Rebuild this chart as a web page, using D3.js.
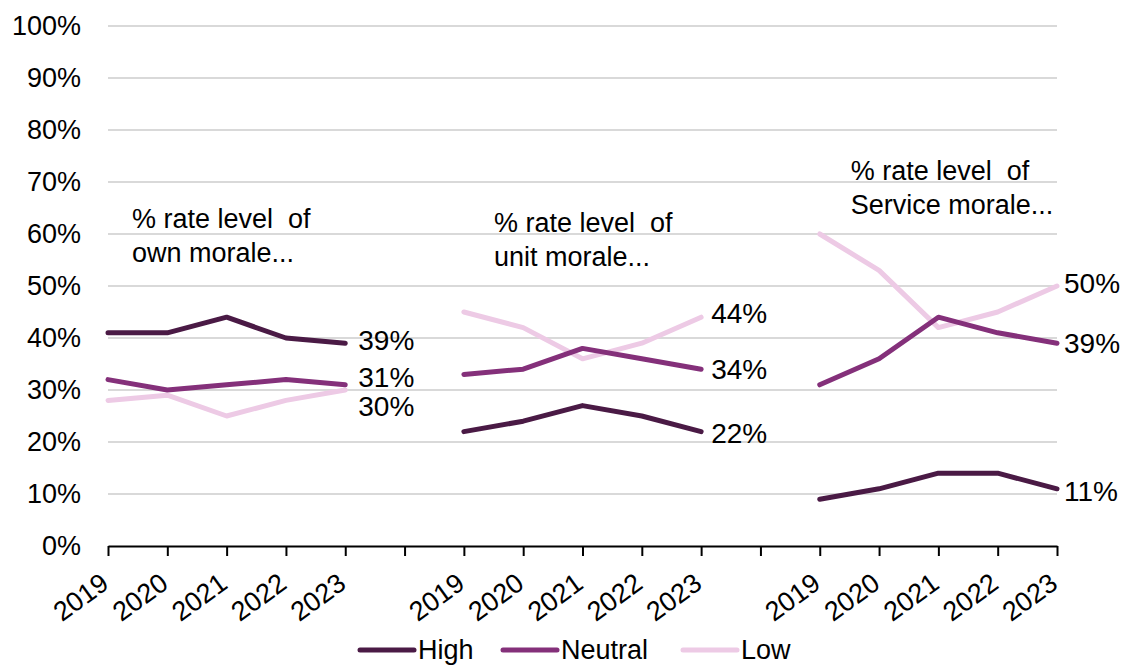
<!DOCTYPE html>
<html>
<head>
<meta charset="utf-8">
<script src="https://cdn.jsdelivr.net/npm/d3@7"></script>
<style>
  html, body { margin: 0; padding: 0; background: #fff; }
  svg text { font-family: "Liberation Sans", Arial, sans-serif; fill: #000; }
</style>
</head>
<body>
<svg id="chart" width="1129" height="668"></svg>
<script>
// Survey years per panel
const years = ["2019", "2020", "2021", "2022", "2023"];
// Panel titles (two lines each)
const panelTitles = [
  ["% rate level  of", "own morale..."],
  ["% rate level  of", "unit morale..."],
  ["% rate level  of", "Service morale..."]
];
// Series values (%), one array per panel
const seriesNames = ["High", "Neutral", "Low"];
const highValues = [
  [41, 41, 44, 40, 39],
  [22, 24, 27, 25, 22],
  [9, 11, 14, 14, 11]
];
const neutralValues = [
  [32, 30, 31, 32, 31],
  [33, 34, 38, 36, 34],
  [31, 36, 44, 41, 39]
];
const lowValues = [
  [28, 29, 25, 28, 30],
  [45, 42, 36, 39, 44],
  [60, 53, 42, 45, 50]
];
const yTicks = [0, 10, 20, 30, 40, 50, 60, 70, 80, 90, 100];

const colors = { High: "#4a1a45", Neutral: "#84307a", Low: "#edcae5" };
// Vertical nudges for end labels that would otherwise collide
const labelNudge = [
  { High: -3, Neutral: -8, Low: 16 },
  { High: 2, Neutral: 0, Low: -4 },
  { High: 2, Neutral: 0, Low: -3 }
];
const labelDx = [13, 10, 7];
const titlePos = [
  { dx: 24, y: 228 },
  { dx: 30, y: 232 },
  { dx: 31, y: 180 }
];

const svg = d3.select("#chart");
const margin = { left: 108, right: 72, top: 26, bottom: 122 };
const W = 1129, H = 668;
const FS = "27px";

// Category slots: 5 years, a blank gap, 5 years, a blank gap, 5 years
const slots = [];
years.forEach((y, i) => slots.push({ key: "p0-" + i, label: y }));
slots.push({ key: "gap1", label: "" });
years.forEach((y, i) => slots.push({ key: "p1-" + i, label: y }));
slots.push({ key: "gap2", label: "" });
years.forEach((y, i) => slots.push({ key: "p2-" + i, label: y }));

const x = d3.scalePoint()
  .domain(slots.map(s => s.key))
  .range([margin.left, W - margin.right]);
const y = d3.scaleLinear().domain([0, 100]).range([H - margin.bottom, margin.top]);

// Gridlines
svg.append("g")
  .selectAll("line")
  .data(yTicks.filter(t => t > 0))
  .join("line")
  .attr("x1", margin.left).attr("x2", W - margin.right)
  .attr("y1", d => y(d)).attr("y2", d => y(d))
  .attr("stroke", "#d9d9d9").attr("stroke-width", 2);

// Y axis labels
const yAxis = svg.append("g")
  .attr("transform", `translate(${margin.left},0)`)
  .call(d3.axisLeft(y).tickValues(yTicks).tickFormat(d => d + "%").tickSize(0).tickPadding(27));
yAxis.select(".domain").remove();
yAxis.selectAll("text").style("font-size", FS).attr("font-family", "Liberation Sans, Arial, sans-serif");

// X axis
const labelOf = Object.fromEntries(slots.map(s => [s.key, s.label]));
const xAxis = svg.append("g")
  .attr("transform", `translate(0,${y(0)})`)
  .call(d3.axisBottom(x).tickFormat(k => labelOf[k]).tickSize(10).tickSizeOuter(0));
xAxis.select(".domain").attr("stroke", "#000").attr("stroke-width", 2);
xAxis.selectAll(".tick line").attr("stroke", "#000").attr("stroke-width", 2);
xAxis.selectAll(".tick text")
  .style("font-size", FS)
  .attr("font-family", "Liberation Sans, Arial, sans-serif")
  .attr("text-anchor", "end")
  .attr("transform", "translate(2,41) rotate(-36)")
  .attr("dy", 0)
  .attr("y", 0);

// Lines
const valuesBySeries = { High: highValues, Neutral: neutralValues, Low: lowValues };
const line = d3.line().x(d => x(d.key)).y(d => y(d.v));
const drawOrder = ["Low", "Neutral", "High"];

for (let p = 0; p < 3; p++) {
  drawOrder.forEach(name => {
    const pts = valuesBySeries[name][p].map((v, i) => ({ key: `p${p}-${i}`, v }));
    svg.append("path")
      .datum(pts)
      .attr("d", line)
      .attr("fill", "none")
      .attr("stroke", colors[name])
      .attr("stroke-width", 5)
      .attr("stroke-linecap", "round")
      .attr("stroke-linejoin", "round");
  });
  // End-value labels
  seriesNames.forEach(name => {
    const vals = valuesBySeries[name][p];
    const last = vals[vals.length - 1];
    svg.append("text")
      .attr("x", x(`p${p}-4`) + labelDx[p])
      .attr("y", y(last) + labelNudge[p][name])
      .attr("dy", "0.35em")
      .style("font-size", "28px")
      .text(last + "%");
  });
  // Panel titles
  const t = svg.append("text")
    .attr("y", titlePos[p].y)
    .style("font-size", FS)
    .style("white-space", "pre");
  panelTitles[p].forEach((ln, i) => {
    t.append("tspan")
      .attr("x", x(`p${p}-0`) + titlePos[p].dx)
      .attr("dy", i === 0 ? 0 : 34)
      .text(ln);
  });
}

// Legend
const legend = svg.append("g").attr("transform", "translate(360,650)");
const legendX = [0, 143, 323];
seriesNames.forEach((name, i) => {
  const g = legend.append("g").attr("transform", `translate(${legendX[i]},0)`);
  g.append("line")
    .attr("x1", 0).attr("x2", 54).attr("y1", 0).attr("y2", 0)
    .attr("stroke", colors[name]).attr("stroke-width", 5).attr("stroke-linecap", "round");
  g.append("text")
    .attr("x", 58).attr("y", 0).attr("dy", "0.35em")
    .style("font-size", FS)
    .text(name);
});
</script>
</body>
</html>
